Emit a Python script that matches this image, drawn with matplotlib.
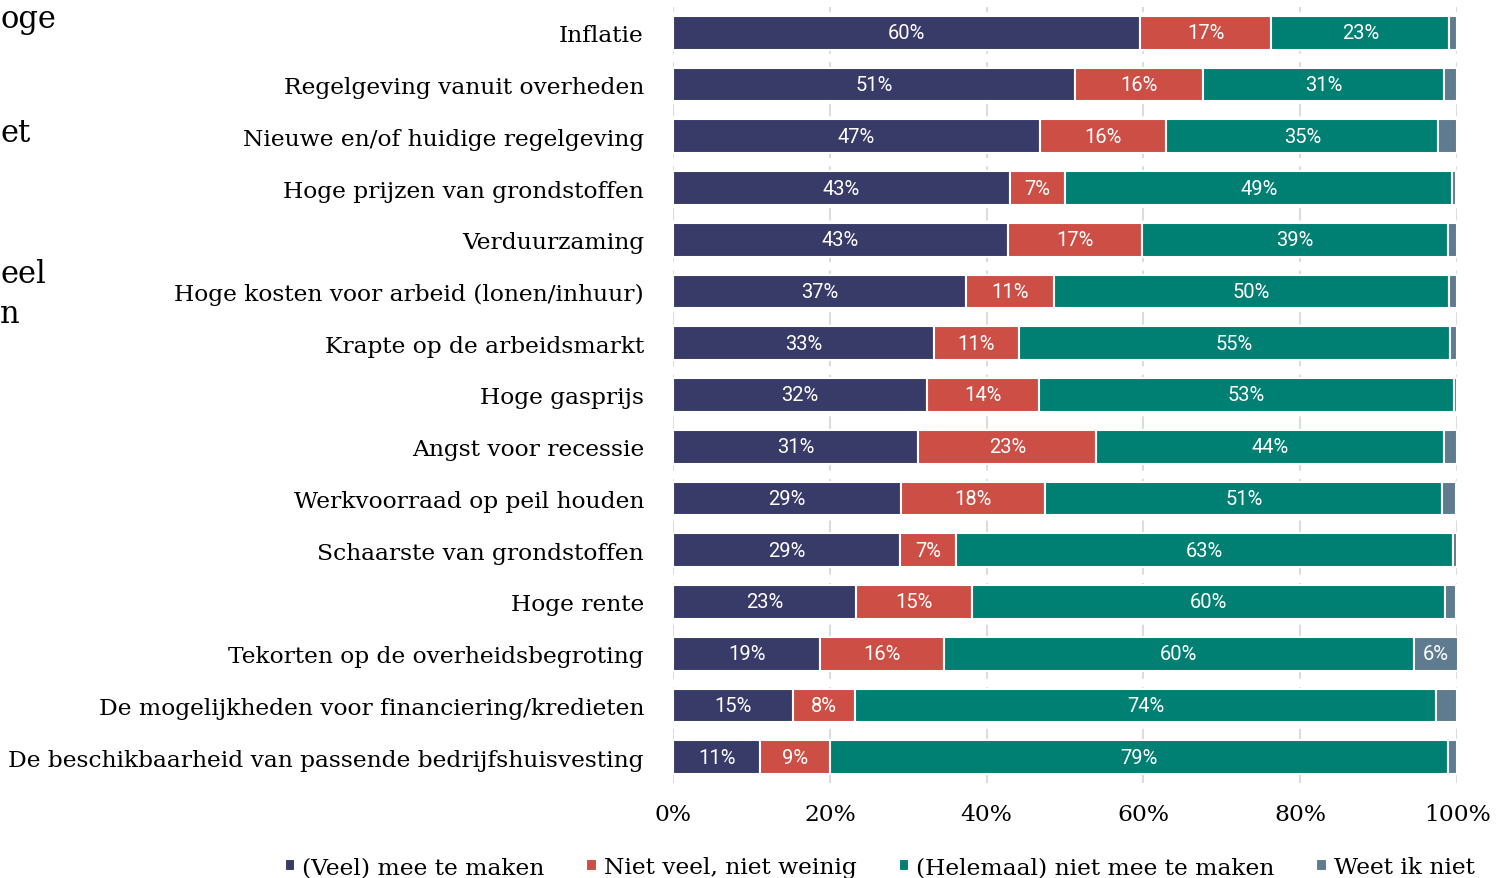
import matplotlib.pyplot as plt
import numpy as np

categories = [
    "Inflatie",
    "Regelgeving vanuit overheden",
    "Nieuwe en/of huidige regelgeving",
    "Hoge prijzen van grondstoffen",
    "Verduurzaming",
    "Hoge kosten voor arbeid (lonen/inhuur)",
    "Krapte op de arbeidsmarkt",
    "Hoge gasprijs",
    "Angst voor recessie",
    "Werkvoorraad op peil houden",
    "Schaarste van grondstoffen",
    "Hoge rente",
    "Tekorten op de overheidsbegroting",
    "De mogelijkheden voor financiering/kredieten",
    "De beschikbaarheid van passende bedrijfshuisvesting",
]
veel = [59.6, 51.3, 46.8, 43.0, 42.7, 37.4, 33.3, 32.4, 31.3, 29.1, 29.0, 23.3, 18.8, 15.3, 11.1]
neutraal = [16.7, 16.3, 16.1, 7.0, 17.1, 11.2, 10.8, 14.3, 22.7, 18.4, 7.1, 14.8, 15.7, 7.9, 8.9]
niet = [22.7, 30.7, 34.7, 49.4, 39.0, 50.4, 55.0, 52.9, 44.3, 50.6, 63.4, 60.3, 60.0, 74.1, 78.8]
weet = [1.0, 1.7, 2.4, 0.5, 1.2, 1.0, 0.9, 0.4, 1.7, 1.8, 0.5, 1.5, 5.6, 2.7, 1.2]

series = ["(Veel) mee te maken", "Niet veel, niet weinig", "(Helemaal) niet mee te maken", "Weet ik niet"]
colors = ["#383a68", "#cc4e44", "#007f73", "#5f7b8f"]
xticks = [0, 20, 40, 60, 80, 100]

serif = "DejaVu Serif"

fig = plt.figure(figsize=(14.96, 8.79), dpi=100)
ax = fig.add_axes([0.4499, 0.108, 0.5241, 0.883])

y = np.arange(len(categories))
left = np.zeros(len(categories))
for name, vals, col in zip(series, [veel, neutraal, niet, weet], colors):
    vals = np.array(vals)
    bars = ax.barh(y, vals, left=left, height=0.65, color=col, edgecolor="white",
                   linewidth=1.5, label=name, zorder=3)
    for b, v in zip(bars, vals):
        if v >= 5:
            ax.text(b.get_x() + b.get_width() / 2, b.get_y() + b.get_height() / 2,
                    f"{round(v)}%", ha="center", va="center", color="white",
                    fontsize=14.5, family="Roboto", zorder=4)
    left += vals

ax.set_xlim(0, 100)
ax.set_ylim(len(categories) - 0.5, -0.5)
ax.set_yticks(y)
ax.set_yticklabels(categories, family=serif, fontsize=16.8)
ax.set_xticks(xticks)
ax.set_xticklabels([f"{t}%" for t in xticks], family=serif, fontsize=16.8)
ax.tick_params(length=0, pad=21, axis="y")
ax.tick_params(length=0, pad=14, axis="x")
ax.grid(axis="x", color="#dcdcdc", linestyle=(0, (6, 4)), linewidth=1.5, zorder=0)
for s in ax.spines.values():
    s.set_visible(False)

leg = fig.legend(loc="lower center", bbox_to_anchor=(0.588, -0.024), ncol=4, frameon=False,
                 prop={"family": serif, "size": 16.8}, handlelength=0.45, handleheight=0.45,
                 handletextpad=0.3, columnspacing=1.8)

# clipped fragments of the side text
for txt, yy in [("oge", 0.978), ("et", 0.848), ("eel", 0.688), ("n", 0.642)]:
    fig.text(0.0, yy, txt, family=serif, fontsize=22, va="center", ha="left")

fig.savefig("out.png", dpi=100)
